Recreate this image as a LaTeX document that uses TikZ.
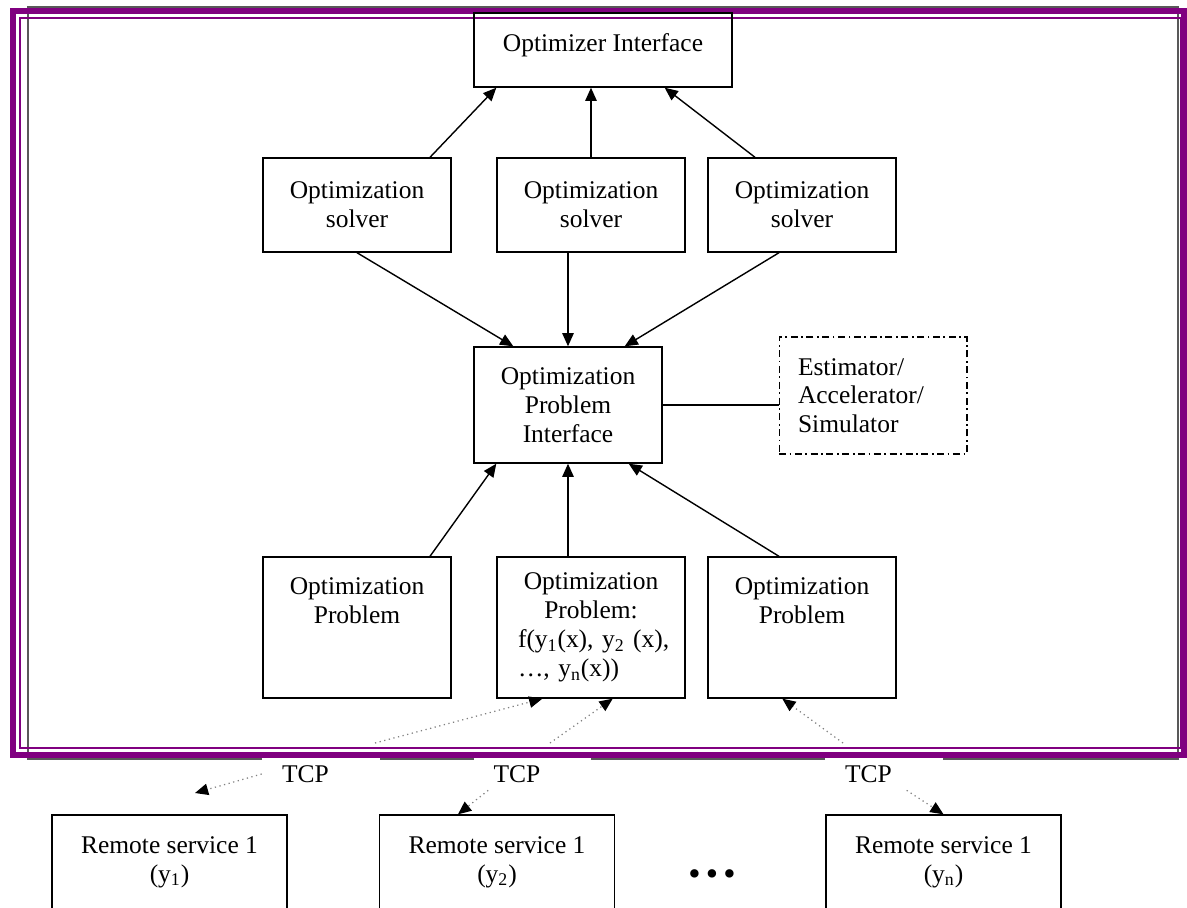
\documentclass[tikz,border=0pt]{standalone}
\usepackage{fontspec}
\setmainfont{Liberation Serif}
\usetikzlibrary{arrows.meta,calc}
\definecolor{framepurple}{RGB}{128,0,128}

\tikzset{
  box/.style={draw, line width=0.8pt, minimum width=3.76cm, minimum height=1.88cm, align=center},
  toplbl/.style={anchor=north, inner sep=0pt, align=center, yshift=-12pt},
  arr/.style={line width=0.8pt, -{Triangle[length=7.5pt,width=6.5pt]}},
  tcparr/.style={draw=gray, dotted, line width=0.7pt, -{Triangle[length=7.5pt,width=6.5pt,color=black]}},
  tcp/.style={fill=white, inner xsep=0.4cm, text width=1.56cm, align=left, minimum height=0.64cm}
}

\begin{document}
\begin{tikzpicture}[x=0.02cm, y=-0.02cm, font=\fontsize{14.5}{16.4}\selectfont]
\clip (0,0) rectangle (1187,907);
\fill[white] (0,0) rectangle (1187,907);
% frame
\draw[gray!70!black, line width=0.8pt] (28,7) rectangle (1178,759);
\node[tcp] (t1) at (321,774) {TCP};
\node[tcp] (t2) at (532.5,774) {TCP};
\node[tcp] (t3) at (884,774) {TCP};
\draw[framepurple, line width=0.12cm] (13,11) rectangle (1184,755);
\draw[framepurple, line width=0.04cm] (20,18) rectangle (1181,748);
% boxes
\node[box, minimum width=5.16cm, minimum height=1.48cm,
  label={[toplbl]north:Optimizer Interface}] (oi) at (603,50) {};
\node[box] (s1) at (357,205) {Optimization\\solver};
\node[box] (s2) at (591,205) {Optimization\\solver};
\node[box] (s3) at (802,205) {Optimization\\solver};
\node[box, minimum height=2.32cm] (pi) at (568,405) {Optimization\\Problem\\Interface};
\node[draw, line width=0.6pt, dash pattern=on 4pt off 2pt on 1pt off 2pt,
  minimum width=3.76cm, minimum height=2.34cm, text width=3cm, align=left]
  (est) at (873,395.5) {Estimator/\\Accelerator/\\Simulator};
\node[box, minimum height=2.82cm,
  label={[toplbl]north:Optimization\\Problem}] (p1) at (357,627.5) {};
\node[draw, line width=0.8pt, minimum width=3.76cm, minimum height=2.82cm, text width=2.92cm]
  (p2) at (591,627.5) {\centering Optimization\\Problem:\par
  \raggedright \mbox{f(y\textsubscript{1}(x), y\textsubscript{2} (x),}\\\ldots, y\textsubscript{n}(x))};
\node[box, minimum height=2.82cm,
  label={[toplbl]north:Optimization\\Problem}] (p3) at (802,627.5) {};
\node[box, minimum width=4.7cm] (r1) at (169.5,862) {Remote service 1\\(y\textsubscript{1})};
\node[box, minimum width=4.7cm] (r2) at (497,862) {Remote service 1\\(y\textsubscript{2})};
\node[box, minimum width=4.7cm] (r3) at (943.5,862) {Remote service 1\\(y\textsubscript{n})};
\node[font=\fontsize{20}{20}\selectfont] (dots) at (712,878)
  {\textbullet\hspace{3pt}\textbullet\hspace{3pt}\textbullet};
% solvers to optimizer
\draw[arr] ($(s1.north)+(73,0)$) -- ($(oi.south west)+(23,0)$);
\draw[arr] (s2.north) -- (s2.north |- oi.south);
\draw[arr] ($(s3.north)+(-47,0)$) -- ($(oi.south east)+(-68,0)$);
% solvers to problem interface
\draw[arr] (s1.south) -- ($(pi.north west)+(40,0)$);
\draw[arr] (pi.north |- s2.south) -- (pi.north);
\draw[arr] ($(s3.south)+(-23,0)$) -- ($(pi.north east)+(-38,0)$);
\draw[line width=0.8pt] (pi.east) -- (pi.east -| est.west);
% problems to problem interface
\draw[arr] ($(p1.north)+(73,0)$) -- ($(pi.south west)+(23,0)$);
\draw[arr] (pi.south |- p2.north) -- (pi.south);
\draw[arr] ($(p3.north)+(-23,0)$) -- ($(pi.south east)+(-34,0)$);
% tcp links
\coordinate (c1) at (375,743);
\coordinate (c2) at (550,743);
\coordinate (c3) at (843,743);
\coordinate (c4) at (195,793);
\draw[tcparr] (c1) -- ($(p2.south west)+(46,0)$);
\draw[tcparr] (c2) -- ($(p2.south east)+(-73,0)$);
\draw[tcparr] (c3) -- ($(p3.south west)+(75,0)$);
\draw[tcparr] (t1.west) -- (c4);
\draw[tcparr] ($(t2.south west)+(15,0)$) -- ($(r2.north)+(-39,0)$);
\draw[tcparr] ($(t3.south west)+(82,0)$) -- (r3.north);
\end{tikzpicture}
\end{document}
